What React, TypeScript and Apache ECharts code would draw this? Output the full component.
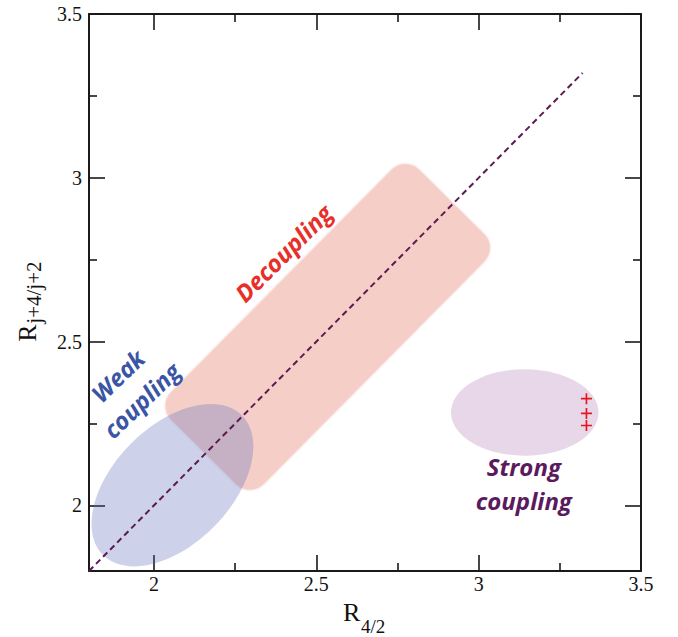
import React, { useEffect, useRef } from "react";
import * as echarts from "echarts";

// ---- data ----
const X_RANGE = [1.8, 3.5];
const Y_RANGE = [1.8, 3.5];
const MAJOR_TICKS = [2, 2.5, 3, 3.5];
const MINOR_TICKS = [2.25, 2.75, 3.25];
// diagonal reference line R_{j+4/j+2} = R_{4/2}
const DIAGONAL = [
  [1.8, 1.8],
  [3.32, 3.32],
];
// measured points (red crosses)
const POINTS = [
  [3.332, 2.326],
  [3.332, 2.281],
  [3.332, 2.244],
];
// region: decoupling band [cx, cy, length, width, angleDeg, cornerRadius]
const DECOUPLING_BAND = [[2.535, 2.545, 1.08, 0.4, 45, 0.06]];
// regions: ellipses [cx, cy, semiA, semiB, angleDeg]
const WEAK_ELLIPSE = [[2.057, 2.062, 0.302, 0.18, 45]];
const STRONG_ELLIPSE = [[3.142, 2.284, 0.227, 0.132, 0]];
// labels [x, y, angleDeg]
const LABEL_POS = [
  [2.398, 2.771, 45],
  [1.925, 2.359, 44],
  [3.139, 2.066, 0],
];
const LABEL_TEXTS = ["Decoupling", "Weak\ncoupling", "Strong\ncoupling"];
const LABEL_COLORS = ["#e8302a", "#3b55a5", "#5b1a5e"];

const AXIS_COLOR = "#1a1a1a";
const SERIF = "'Liberation Serif', 'Times New Roman', serif";

function makeAxes(kind: "x" | "y") {
  const range = kind === "x" ? X_RANGE : Y_RANGE;
  const sides = kind === "x" ? ["bottom", "top"] : ["left", "right"];
  const axes: any[] = [];
  sides.forEach((pos, si) => {
    // major
    axes.push({
      type: "value",
      position: pos,
      min: range[0],
      max: range[1],
      axisLine: { show: true, onZero: false, lineStyle: { color: AXIS_COLOR, width: 2 } },
      axisTick: {
        show: true,
        inside: true,
        length: 16,
        customValues: MAJOR_TICKS,
        lineStyle: { color: AXIS_COLOR, width: 1.6 },
      },
      axisLabel: {
        show: si === 0,
        customValues: MAJOR_TICKS,
        fontFamily: SERIF,
        fontSize: 20,
        color: "#111",
        margin: kind === "x" ? 3 : 7,
      },
      splitLine: { show: false },
    });
    // minor
    axes.push({
      type: "value",
      position: pos,
      min: range[0],
      max: range[1],
      axisLine: { show: false, onZero: false },
      axisTick: {
        show: true,
        inside: true,
        length: 8,
        customValues: MINOR_TICKS,
        lineStyle: { color: AXIS_COLOR, width: 1.6 },
      },
      axisLabel: { show: false },
      splitLine: { show: false },
    });
  });
  return axes;
}

export default function App() {
  const ref = useRef<HTMLDivElement>(null);
  useEffect(() => {
    if (!ref.current) return;
    const chart = echarts.init(ref.current, null, { renderer: "svg" });

    const ellipseItem = (fill: string) => (params: any, api: any) => {
      const cx = api.value(0),
        cy = api.value(1),
        a = api.value(2),
        b = api.value(3),
        t = (api.value(4) * Math.PI) / 180;
      const c = api.coord([cx, cy]);
      const pa = api.coord([cx + a * Math.cos(t), cy + a * Math.sin(t)]);
      const pb = api.coord([cx - b * Math.sin(t), cy + b * Math.cos(t)]);
      const rx = Math.hypot(pa[0] - c[0], pa[1] - c[1]);
      const ry = Math.hypot(pb[0] - c[0], pb[1] - c[1]);
      const rot = -Math.atan2(pa[1] - c[1], pa[0] - c[0]);
      return {
        type: "ellipse",
        x: c[0],
        y: c[1],
        rotation: rot,
        shape: { cx: 0, cy: 0, rx, ry },
        style: { fill },
      };
    };

    chart.setOption({
      animation: false,
      backgroundColor: "#ffffff",
      grid: { left: 89, right: 37, top: 14, bottom: 66, containLabel: false },
      xAxis: makeAxes("x"),
      yAxis: makeAxes("y"),
      series: [
        {
          type: "custom",
          z: 1,
          data: DECOUPLING_BAND,
          renderItem: (params: any, api: any) => {
            const cx = api.value(0),
              cy = api.value(1),
              len = api.value(2),
              wid = api.value(3),
              t = (api.value(4) * Math.PI) / 180,
              rad = api.value(5);
            const c = api.coord([cx, cy]);
            const p = api.coord([cx + (len / 2) * Math.cos(t), cy + (len / 2) * Math.sin(t)]);
            const q = api.coord([cx - (wid / 2) * Math.sin(t), cy + (wid / 2) * Math.cos(t)]);
            const Lp = 2 * Math.hypot(p[0] - c[0], p[1] - c[1]);
            const Wp = 2 * Math.hypot(q[0] - c[0], q[1] - c[1]);
            const rot = -Math.atan2(p[1] - c[1], p[0] - c[0]);
            const rp = (rad * Lp) / len;
            return {
              type: "rect",
              x: c[0],
              y: c[1],
              rotation: rot,
              shape: { x: -Lp / 2, y: -Wp / 2, width: Lp, height: Wp, r: rp },
              style: { fill: "#f5cec7", shadowBlur: 2, shadowColor: "rgba(240,190,180,0.7)" },
            };
          },
        },
        {
          type: "custom",
          z: 2,
          data: STRONG_ELLIPSE,
          renderItem: ellipseItem("#e8d7e8"),
        },
        {
          type: "custom",
          z: 2,
          data: WEAK_ELLIPSE,
          renderItem: ellipseItem("rgba(88,105,185,0.3)"),
        },
        {
          type: "line",
          z: 3,
          data: DIAGONAL,
          showSymbol: false,
          symbol: "none",
          lineStyle: { color: "#5c1a50", width: 2, type: [6, 4] },
        },
        {
          type: "scatter",
          z: 4,
          data: POINTS,
          symbol: "path://M5.1,0H6.9V5.1H12V6.9H6.9V12H5.1V6.9H0V5.1H5.1Z",
          symbolSize: 11,
          itemStyle: { color: "#e8141c", opacity: 1 },
        },
        {
          type: "custom",
          z: 5,
          data: LABEL_POS.map((p, i) => [p[0], p[1], p[2], i]),
          renderItem: (params: any, api: any) => {
            const c = api.coord([api.value(0), api.value(1)]);
            const i = api.value(3);
            return {
              type: "text",
              x: c[0],
              y: c[1],
              rotation: (api.value(2) * Math.PI) / 180,
              style: {
                text: LABEL_TEXTS[i],
                fill: LABEL_COLORS[i],
                fontFamily: "'Open Sans', sans-serif",
                fontWeight: "bold",
                fontStyle: "italic",
                fontSize: 24,
                lineHeight: 34,
                align: "center",
                verticalAlign: "middle",
              },
            };
          },
        },
      ],
      graphic: [
        {
          type: "text",
          x: 343,
          y: 620 - 0.3 * 26,
          style: { text: "R", fontFamily: SERIF, fontSize: 26, fill: "#111", align: "left", verticalAlign: "middle" },
        },
        {
          type: "text",
          x: 361,
          y: 632 - 0.3 * 19,
          style: { text: "4/2", fontFamily: SERIF, fontSize: 19, fill: "#111", align: "left", verticalAlign: "middle" },
        },
        {
          type: "group",
          x: 35.7,
          y: 341.7,
          rotation: Math.PI / 2,
          children: [
            {
              type: "text",
              x: 0,
              y: -0.3 * 26,
              style: { text: "R", fontFamily: SERIF, fontSize: 26, fill: "#111", align: "left", verticalAlign: "middle" },
            },
            {
              type: "text",
              x: 18,
              y: 5 - 0.3 * 21,
              style: { text: "j+4/j+2", fontFamily: SERIF, fontSize: 21, fill: "#111", align: "left", verticalAlign: "middle" },
            },
          ],
        },
      ],
    });
    return () => chart.dispose();
  }, []);
  return (
    <div
      ref={ref}
      style={{ position: "absolute", left: 0, top: 0, width: 678, height: 637 }}
    />
  );
}
